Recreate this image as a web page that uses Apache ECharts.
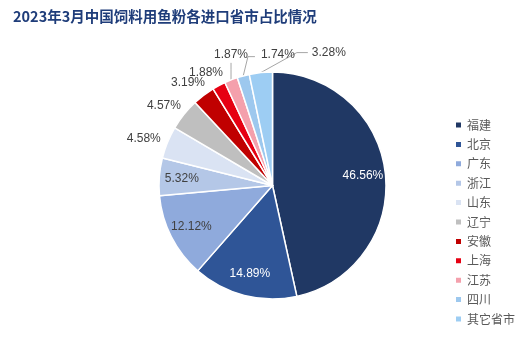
<!DOCTYPE html>
<html>
<head>
<meta charset="utf-8">
<script src="https://cdn.jsdelivr.net/npm/echarts@6/dist/echarts.min.js"></script>
<style>
html,body{margin:0;padding:0;background:#fff;}
#chart{width:530px;height:361px;}
</style>
</head>
<body>
<div id="chart"></div>
<script>
// ---- data ----
const titleText = '2023年3月中国饲料用鱼粉各进口省市占比情况';
const categories = ['福建', '北京', '广东', '浙江', '山东', '辽宁', '安徽', '上海', '江苏', '四川', '其它省市'];
const shares = [46.56, 14.89, 12.12, 5.32, 4.58, 4.57, 3.19, 1.88, 1.87, 1.74, 3.28];

// ---- styles ----
const colors = ['#203864', '#2F5597', '#8FAADC', '#B4C7E7', '#DAE3F3', '#BFBFBF', '#C00000', '#E60012', '#F4A0AC', '#9DC8EE', '#9DCDF3'];
const insideLabelColors = {'福建': '#FFFFFF', '北京': '#FFFFFF', '广东': '#404040', '浙江': '#404040'};
const CX = 272.5, CY = 185.5, R = 113.5;
const FONT = '"Liberation Sans", "Noto Sans CJK SC", sans-serif';
// outside label placement relative to the slice's edge point
const outsideCfg = {
  '山东': {dx: -6.7, dy: -4.3, align: 'right'},
  '辽宁': {dx: -3, dy: -8.9, align: 'right'},
  '安徽': {dx: 1.3, dy: -12.2, align: 'right'},
  '上海': {dx: 4.1, dy: -12.8, align: 'right'},
  '江苏': {dx: 0, dy: -25.5, align: 'center', line: [[0, -10], [0, -17]]},
  '四川': {dx: 17.7, dy: -21.6, align: 'left', line: [[4.7, -19.2], [11.7, -19.2]]},
  '其它省市': {dx: 51, dy: -20, align: 'left', line: [[36, -20], [47, -20]]}
};

const total = shares.reduce((a, b) => a + b, 0);
function edgePoint(i) {
  let cum = 0;
  for (let k = 0; k < i; k++) cum += shares[k];
  const mid = (cum + shares[i] / 2) / total * Math.PI * 2;
  return [CX + R * Math.sin(mid), CY - R * Math.cos(mid)];
}

const mainData = categories.map((name, i) => {
  const cfg = outsideCfg[name];
  return {
    name: name,
    value: shares[i],
    itemStyle: {color: colors[i]},
    label: {show: !!cfg},
    labelLine: {show: !!(cfg && cfg.line)}
  };
});
const overlayData = categories.map((name, i) => ({
  name: name,
  value: shares[i],
  label: {show: !!insideLabelColors[name], color: insideLabelColors[name] || '#404040'}
}));

const chart = echarts.init(document.getElementById('chart'), null, {renderer: 'canvas'});
chart.setOption({
  animation: false,
  backgroundColor: '#fff',
  title: {
    text: titleText,
    left: 13,
    top: 9,
    padding: 0,
    textStyle: {fontSize: 14.5, fontWeight: 'bold', color: '#1F3D7A', fontFamily: '"Noto Sans CJK SC", sans-serif'}
  },
  legend: {
    orient: 'vertical',
    left: 449,
    top: 114,
    itemWidth: 7,
    itemHeight: 7,
    itemGap: 7.4,
    icon: 'rect',
    data: categories,
    textStyle: {fontSize: 12, lineHeight: 12, color: '#595959', fontFamily: '"Noto Sans CJK SC", sans-serif'}
  },
  series: [
    {
      type: 'pie',
      center: [CX, CY],
      radius: [0, R],
      startAngle: 90,
      clockwise: true,
      avoidLabelOverlap: false,
      emphasis: {disabled: true},
      itemStyle: {borderColor: '#FFFFFF', borderWidth: 1.5},
      label: {position: 'outside', formatter: '{c}%', fontSize: 12, color: '#404040', fontFamily: FONT},
      labelLine: {length: 10, length2: 5, lineStyle: {color: '#A6A6A6', width: 1}},
      labelLayout: function (p) {
        const name = categories[p.dataIndex];
        const cfg = outsideCfg[name];
        if (!cfg) return {};
        const e = edgePoint(p.dataIndex);
        const res = {x: e[0] + cfg.dx, y: e[1] + cfg.dy, align: cfg.align, verticalAlign: 'middle'};
        if (cfg.line) {
          res.labelLinePoints = [e].concat(cfg.line.map(o => [e[0] + o[0], e[1] + o[1]]));
        }
        return res;
      },
      data: mainData
    },
    {
      type: 'pie',
      center: [CX, CY],
      radius: [R * 0.55, R],
      startAngle: 90,
      clockwise: true,
      silent: true,
      avoidLabelOverlap: false,
      emphasis: {disabled: true},
      itemStyle: {color: 'rgba(0,0,0,0)', borderWidth: 0},
      label: {position: 'inside', formatter: '{c}%', fontSize: 12, fontFamily: FONT},
      labelLine: {show: false},
      data: overlayData
    }
  ]
});
</script>
</body>
</html>
